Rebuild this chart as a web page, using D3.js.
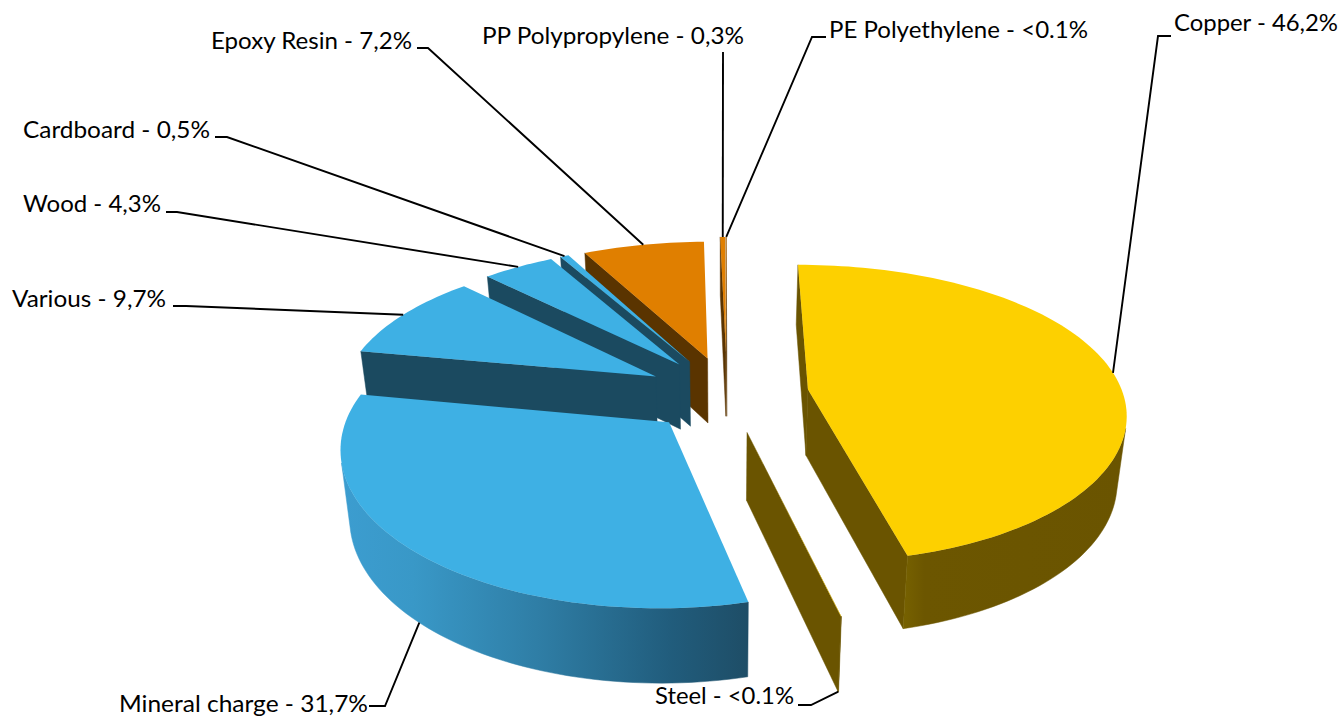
<!DOCTYPE html>
<html>
<head>
<meta charset="utf-8">
<style>
  body { margin: 0; background: #fff; }
  text { font-family: Lato, "Liberation Sans", sans-serif; font-size: 24px; fill: #000; }
</style>
<script src="https://cdnjs.cloudflare.com/ajax/libs/d3/7.8.5/d3.min.js"></script>
</head>
<body>
<div id="chart"></div>
<script>
// clockwise from twelve o'clock, as in the original
var categories = ["Copper", "Steel", "Mineral charge", "Various", "Wood", "Cardboard", "Epoxy Resin", "PP Polypropylene", "PE Polyethylene"];
var values = [46.2, 0.02, 31.7, 9.7, 4.3, 0.5, 7.2, 0.3, 0.02];
var valueLabels = ["46,2%", "<0.1%", "31,7%", "9,7%", "4,3%", "0,5%", "7,2%", "0,3%", "<0.1%"];

var topColours = ["#fdd000", "#fdd000", "#3eb0e4", "#3eb0e4", "#3eb0e4", "#3eb0e4", "#e07f00", "#e07f00", "#e07f00"];
var wallColours = ["#6a5400", "#6a5400", "#1b4a60", "#1b4a60", "#1b4a60", "#1b4a60", "#5a3400", "#5a3400", "#5a3400"];
var explode = [0.26, 0.26, 0.26, 0.26, 0.26, 0.26, 0.26, 0.30, 0.30];

// label x, baseline, width, then the start and knee of the leader line
var labelLayout = [
  {x: 1174, y: 31, w: 164, from: [1171, 36], knee: [1158, 36], bottom: false},
  {x: 655, y: 704, w: 139, from: [798, 705], knee: [811, 705], bottom: true},
  {x: 119, y: 712, w: 249, from: [369, 706], knee: [385, 706], bottom: true},
  {x: 12, y: 307, w: 154, from: [173, 306], knee: [186, 306], bottom: false},
  {x: 23, y: 212, w: 138, from: [166, 212], knee: [177, 212], bottom: false},
  {x: 23, y: 138, w: 187, from: [215, 137], knee: [227, 137], bottom: false},
  {x: 211, y: 49, w: 201, from: [417, 48], knee: [428, 48], bottom: false},
  {x: 482, y: 44, w: 262, from: [723, 52], knee: [723, 52], bottom: false},
  {x: 829, y: 38, w: 259, from: [826, 37], knee: [812, 37], bottom: false}
];

var width = 1341, height = 717;

// perspective projection of the pie plane, X to the right and Y away from us, radius 1
var cam = {cx: 727, cy: 394, vx: 724, p: 0.16, a: 315, d: 146, skew: 6, depth: 66, q: 0.1, shrink: 0.976};

function project(X, Y, bottom) {
  var w = 1 + cam.p * Y;
  var sx = cam.vx + (cam.cx - cam.vx + cam.a * X) / w + cam.skew * X * Y;
  var sy = cam.cy - cam.d * Y / w;
  if (bottom) {
    sx = cam.vx + (sx - cam.vx) * cam.shrink;
    sy = sy + cam.depth / (1 + cam.q * Y);
  }
  return [sx, sy];
}

var svg = d3.select("#chart").append("svg")
  .attr("width", width)
  .attr("height", height);

var pie = d3.pie().sort(null).startAngle(0).endAngle(2 * Math.PI);
var arcs = pie(values);
var line = d3.line();

// the curved walls are shaded from left to right
var defs = svg.append("defs");
function addGradient(id, x1, x2, stops) {
  var grad = defs.append("linearGradient")
    .attr("id", id)
    .attr("gradientUnits", "userSpaceOnUse")
    .attr("x1", x1).attr("x2", x2)
    .attr("y1", 0).attr("y2", 0);
  stops.forEach(function(s) {
    grad.append("stop").attr("offset", s[0]).attr("stop-color", s[1]);
  });
}
addGradient("mineralWall", 340, 750, [[0, "#3c9dd0"], [0.18, "#3998c7"], [0.48, "#2f7ea6"], [0.8, "#215d7d"], [1, "#1e4d66"]]);
addGradient("copperWall", 902, 1127, [[0, "#776200"], [0.1, "#6c5600"], [1, "#6a5400"]]);

function rimFill(i) {
  if (i == 0) return "url(#copperWall)";
  if (i == 2) return "url(#mineralWall)";
  return wallColours[i];
}

var slices = arcs.map(function(a, i) {
  var mid = (a.startAngle + a.endAngle) / 2;
  var ox = explode[i] * Math.sin(mid), oy = explode[i] * Math.cos(mid);
  var rim = [];
  var n = Math.max(1, Math.ceil((a.endAngle - a.startAngle) / (1.5 * Math.PI / 180)));
  d3.range(n + 1).forEach(function(k) {
    var t = a.startAngle + (a.endAngle - a.startAngle) * k / n;
    rim.push({x: ox + Math.sin(t), y: oy + Math.cos(t)});
  });
  return {i: i, mid: mid, ox: ox, oy: oy, rim: rim};
});

// far slices first so the near ones cover them
slices.sort(function(a, b) { return b.oy - a.oy; });

slices.forEach(function(s) {
  var g = svg.append("g").attr("class", "slice");
  var apexTop = project(s.ox, s.oy, false), apexBottom = project(s.ox, s.oy, true);

  function drawPoly(points, fill) {
    g.append("path")
      .attr("d", line(points) + "Z")
      .attr("fill", fill)
      .attr("stroke", fill)
      .attr("stroke-width", 0.5);
  }

  // flat wall along a cut edge, skipped when it faces away from us
  function cutWall(a, b, aBottom, bBottom) {
    var quad = [a, b, bBottom, aBottom];
    if (d3.polygonArea(quad) > 0) drawPoly(quad, wallColours[s.i]);
  }

  var first = s.rim[0], last = s.rim[s.rim.length - 1];
  cutWall(apexTop, project(first.x, first.y, false), apexBottom, project(first.x, first.y, true));
  cutWall(project(last.x, last.y, false), apexTop, project(last.x, last.y, true), apexBottom);

  // part of the curved wall that faces us, as one shape
  var tops = [], bottoms = [];
  for (var k = 0; k < s.rim.length - 1; k++) {
    var p = s.rim[k], q = s.rim[k + 1];
    var quad = [project(p.x, p.y, false), project(q.x, q.y, false), project(q.x, q.y, true), project(p.x, p.y, true)];
    if (d3.polygonArea(quad) > 0) {
      if (!tops.length) { tops.push(quad[0]); bottoms.push(quad[3]); }
      tops.push(quad[1]);
      bottoms.push(quad[2]);
    }
  }
  if (tops.length) drawPoly(tops.concat(bottoms.reverse()), rimFill(s.i));

  var outline = [apexTop].concat(s.rim.map(function(p) { return project(p.x, p.y, false); }));
  g.append("path")
    .attr("d", line(outline) + "Z")
    .attr("fill", topColours[s.i]);
});

// leader lines end on the rim of the slice at its middle angle
slices.forEach(function(s) {
  var l = labelLayout[s.i];
  var end = project(s.ox + Math.sin(s.mid), s.oy + Math.cos(s.mid), l.bottom);
  svg.append("path")
    .attr("d", line([l.from, l.knee, end]))
    .attr("fill", "none")
    .attr("stroke", "#000")
    .attr("stroke-width", 1.9);
});

categories.forEach(function(c, i) {
  var l = labelLayout[i];
  svg.append("text")
    .attr("x", l.x)
    .attr("y", l.y)
    .attr("textLength", l.w)
    .attr("lengthAdjust", "spacingAndGlyphs")
    .text(c + " - " + valueLabels[i]);
});
</script>
</body>
</html>
